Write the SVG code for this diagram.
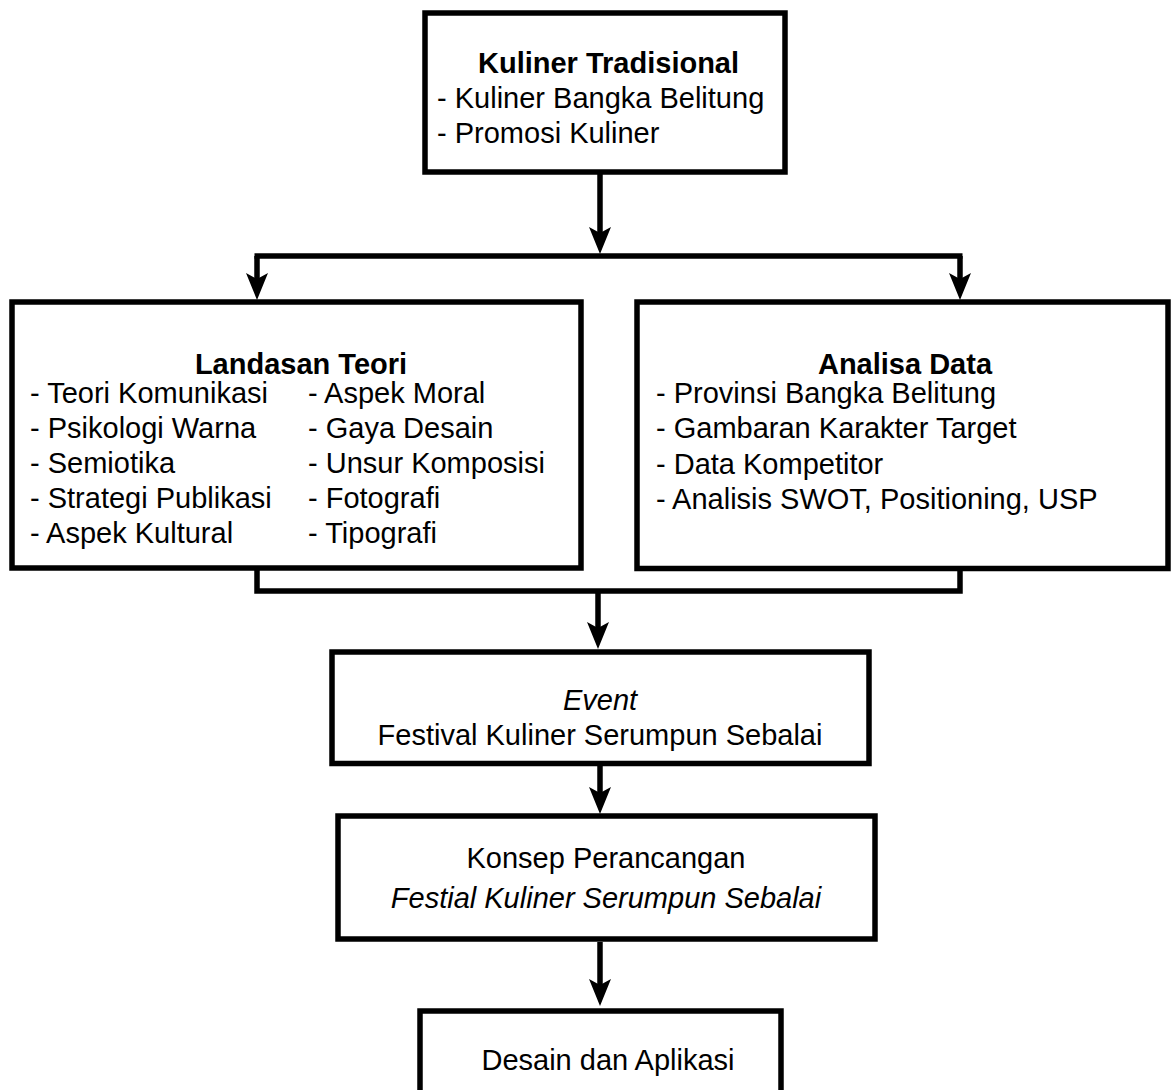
<svg xmlns="http://www.w3.org/2000/svg" width="1173" height="1090" viewBox="0 0 1173 1090">
<defs>
<style>
.box{fill:#fff;stroke:#000;stroke-width:5.5}
.ln{fill:none;stroke:#000;stroke-width:5.5}
text{font-family:"Liberation Sans",Arial,sans-serif;font-size:29px;fill:#000}
.b{font-weight:bold}
.i{font-style:italic}
.m{text-anchor:middle}
</style>
<marker id="ah" markerUnits="userSpaceOnUse" markerWidth="30" markerHeight="24" refX="6" refY="11" orient="auto" viewBox="0 0 30 22">
<path d="M0,0 L27,11 L0,22 L6,11 Z" fill="#000"/>
</marker>
</defs>
<rect width="1173" height="1090" fill="#fff"/>
<g id="connectors">
<path class="ln" d="M600,174 V233" marker-end="url(#ah)"/>
<path class="ln" d="M254.5,256 H962.5"/>
<path class="ln" d="M257,256 V279" marker-end="url(#ah)"/>
<path class="ln" d="M960,256 V279" marker-end="url(#ah)"/>
<path class="ln" d="M257,568 V591 H960 V568"/>
<path class="ln" d="M598,591 V628" marker-end="url(#ah)"/>
<path class="ln" d="M600,766 V793" marker-end="url(#ah)"/>
<path class="ln" d="M600,942 V985" marker-end="url(#ah)"/>
</g>
<g id="kuliner">
<rect class="box" x="425" y="13" width="360" height="159"/>
<text class="b" x="478" y="73">Kuliner Tradisional</text>
<text x="437" y="108">- Kuliner Bangka Belitung</text>
<text x="437" y="143">- Promosi Kuliner</text>
</g>
<g id="landasan">
<rect class="box" x="12" y="302" width="569" height="266"/>
<text class="b m" x="301" y="374">Landasan Teori</text>
<text x="30" y="403">- Teori Komunikasi</text>
<text x="30" y="438">- Psikologi Warna</text>
<text x="30" y="473">- Semiotika</text>
<text x="30" y="508">- Strategi Publikasi</text>
<text x="30" y="543">- Aspek Kultural</text>
<text x="308" y="403">- Aspek Moral</text>
<text x="308" y="438">- Gaya Desain</text>
<text x="308" y="473">- Unsur Komposisi</text>
<text x="308" y="508">- Fotografi</text>
<text x="308" y="543">- Tipografi</text>
</g>
<g id="analisa">
<rect class="box" x="637" y="302" width="531" height="266.5"/>
<text class="b m" x="905" y="374">Analisa Data</text>
<text x="656" y="403">- Provinsi Bangka Belitung</text>
<text x="656" y="438">- Gambaran Karakter Target</text>
<text x="656" y="474">- Data Kompetitor</text>
<text x="656" y="509">- Analisis SWOT, Positioning, USP</text>
</g>
<g id="event">
<rect class="box" x="332" y="652" width="537" height="111.5"/>
<text class="i m" x="600" y="710">Event</text>
<text class="m" x="600" y="745">Festival Kuliner Serumpun Sebalai</text>
</g>
<g id="konsep">
<rect class="box" x="338" y="816" width="537" height="123"/>
<text class="m" x="606" y="868">Konsep Perancangan</text>
<text class="i m" x="606" y="908">Festial Kuliner Serumpun Sebalai</text>
</g>
<g id="desain">
<rect class="box" x="420" y="1011" width="361" height="100"/>
<text class="m" x="608" y="1070">Desain dan Aplikasi</text>
</g>
</svg>
